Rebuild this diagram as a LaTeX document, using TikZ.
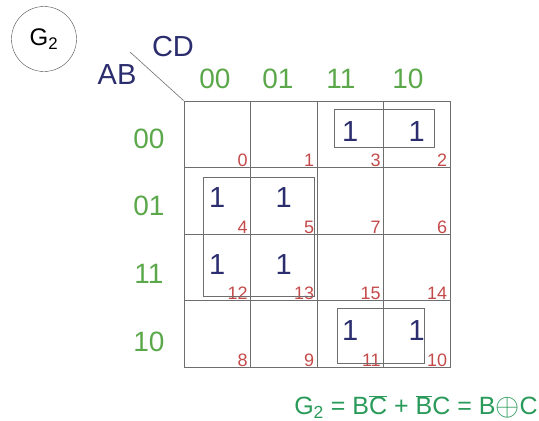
\documentclass[tikz,border=0pt]{standalone}
\usepackage{fontspec}
\setmainfont{Liberation Sans}
\usepackage{tikz}
\usetikzlibrary{positioning}
\definecolor{hdrgreen}{HTML}{5BA84A}
\definecolor{eqgreen}{HTML}{2A9A5A}
\definecolor{onenavy}{HTML}{2B2D6E}
\definecolor{idxred}{HTML}{C44A4A}
\definecolor{gridgray}{HTML}{6E6E6E}

\begin{document}
\begin{tikzpicture}[x=1pt, y=-1pt,
		cellbox/.style={draw=gridgray, line width=0.8pt, minimum size=66.5pt, inner sep=0pt},
		hdr/.style={font=\fontsize{28}{28}\selectfont, text=hdrgreen},
		var/.style={font=\fontsize{29}{29}\selectfont, text=onenavy},
		one/.style={font=\fontsize{29}{29}\selectfont, text=onenavy},
		idx/.style={font=\fontsize{18}{18}\selectfont, text=idxred, anchor=south east, inner sep=1pt},
		grp/.style={draw=gridgray, line width=0.8pt}]
	\useasboundingbox (0,0) rectangle (539,421);
	% cells with their minterm numbers
	\foreach \r/\rv in {0/0,1/1,2/3,3/2} {
		\foreach \c/\cv in {0/0,1/1,2/3,3/2} {
			\node[cellbox] (c\r\c) at ({217.25+66.5*\c},{134.25+66.5*\r}) {};
			\pgfmathtruncatemacro\n{4*\rv+\cv}
			\node[idx] (n\r\c) at ([xshift=-2pt, yshift=0pt]c\r\c.south east) {\n};
		}
	}
	\foreach \p in {02,03,10,11,20,21,32,33}
		\node[one] (o\p) at ([yshift=3pt]c\p) {1};
	% groups
	\draw[grp] (334,109) rectangle (434,147);
	\draw[grp] (203,177) rectangle (314,296);
	\draw[grp] (337,308) rectangle (424,363);
	% headers
	\node[hdr] (cd00) at (215,79) {00};
	\node[hdr] (cd01) at (278,79) {01};
	\node[hdr] (cd11) at (341,79) {11};
	\node[hdr] (cd10) at (408,79) {10};
	\node[hdr] (ab00) at (149,139) {00};
	\node[hdr] (ab01) at (149,206) {01};
	\node[hdr] (ab11) at (149,274) {11};
	\node[hdr] (ab10) at (149,342) {10};
	\coordinate (dg) at (130,52);
	\draw[gridgray, line width=0.6pt] (dg) -- (c00.north west);
	\node[var] (cd) at (173,47) {CD};
	\node[var] (ab) at (117,75) {AB};
	\node[draw=black!70, circle, minimum size=65pt, inner sep=0pt,
		font=\fontsize{24}{24}\selectfont] (g) at (44,39) {G\textsubscript{2}};
	% result
	\node[anchor=east, font=\fontsize{25}{25}\selectfont, text=eqgreen, inner sep=1pt] (eq) at (539,407)
		{G\textsubscript{2} = B$\overline{\mbox{C}}$ + $\overline{\mbox{B}}$C = B\raisebox{-1pt}{\scalebox{1.25}{$\oplus$}}C};
\end{tikzpicture}
\end{document}
